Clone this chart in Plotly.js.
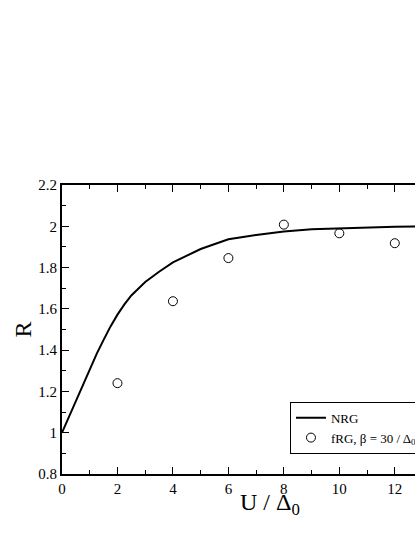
<!DOCTYPE html>
<html>
<head>
<meta charset="utf-8">
<script src="https://cdn.plot.ly/plotly-3.0.1.min.js"></script>
<style>
  html, body { margin: 0; padding: 0; overflow: hidden; background: #fff; }
  #chart { width: 540px; height: 537px; }
</style>
</head>
<body>
<div id="chart"></div>
<script>
// NRG curve
var nrgU = [0, 0.25, 0.5, 0.75, 1, 1.25, 1.5, 1.75, 2, 2.25, 2.5, 2.75, 3, 3.5, 4, 5, 6, 7, 8, 9, 10, 11, 12, 13, 14, 15];
var nrgR = [1.0, 1.078, 1.155, 1.233, 1.31, 1.382, 1.45, 1.515, 1.572, 1.622, 1.665, 1.70, 1.73, 1.78, 1.825, 1.89, 1.937, 1.958, 1.975, 1.986, 1.991, 1.995, 1.998, 2.0, 2.0, 2.0];

// fRG points, beta = 30 / Delta
var frgU = [2, 4, 6, 8, 10, 12];
var frgR = [1.24, 1.637, 1.846, 2.008, 1.966, 1.918];

var serif = 'Liberation Serif, Times New Roman, serif';

var traces = [
    {
        x: nrgU,
        y: nrgR,
        name: 'NRG',
        mode: 'lines',
        line: {color: 'black', width: 2}
    },
    {
        x: frgU,
        y: frgR,
        name: 'fRG, \u03b2 = 30 / \u0394<sub>0</sub>',
        mode: 'markers',
        marker: {symbol: 'circle-open', size: 9, color: 'black', line: {width: 1, color: 'black'}}
    }
];

var axisCommon = {
    showgrid: false,
    zeroline: false,
    showline: true,
    linecolor: 'black',
    linewidth: 2,
    mirror: 'allticks',
    ticks: 'inside',
    ticklen: 7,
    tickwidth: 1,
    tickcolor: 'black',
    tickfont: {family: serif, size: 15, color: 'black'}
};

var layout = {
    width: 540,
    height: 537,
    margin: {l: 62, r: 62, t: 185, b: 63},
    paper_bgcolor: 'white',
    plot_bgcolor: 'white',
    font: {family: serif, color: 'black'},
    showlegend: true,
    xaxis: Object.assign({}, axisCommon, {
        range: [0, 15],
        dtick: 2,
        minor: {dtick: 1, ticks: 'inside', ticklen: 4, tickwidth: 1, tickcolor: 'black'}
    }),
    yaxis: Object.assign({}, axisCommon, {
        range: [0.8, 2.2],
        dtick: 0.2,
        minor: {dtick: 0.1, ticks: 'inside', ticklen: 4, tickwidth: 1, tickcolor: 'black'},
        title: {text: 'R', font: {family: serif, size: 24, color: 'black'}, standoff: 0}
    }),
    annotations: [{
        text: 'U / \u0394<sub>0</sub>',
        xref: 'paper', yref: 'paper',
        x: 0.5, y: -0.045,
        xanchor: 'center', yanchor: 'top',
        showarrow: false,
        font: {family: serif, size: 24, color: 'black'}
    }],
    legend: {
        x: 0.548,
        y: 0.25,
        xanchor: 'left',
        yanchor: 'top',
        bgcolor: 'white',
        bordercolor: 'black',
        borderwidth: 1,
        font: {family: serif, size: 13, color: 'black'},
        tracegroupgap: 0
    }
};

Plotly.newPlot('chart', traces, layout, {displayModeBar: false, staticPlot: true});
</script>
</body>
</html>
